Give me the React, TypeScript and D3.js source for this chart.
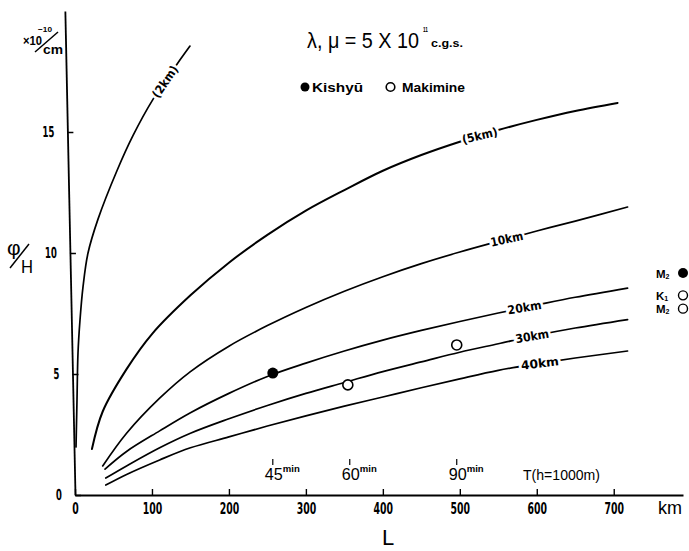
import React, { useEffect, useRef } from 'react'
import * as d3 from 'd3'

// φ/H (x10^-10 /cm) against distance L (km), one curve per depth
const curve2km: [number, number][] = [
  [1.3, 1.98], [2.6, 3.93], [3.9, 5.87], [6.5, 7.23], [10.4, 8.6], [16.9, 10.0],
  [29.9, 11.4], [54.5, 13.4], [75.3, 14.85], [101.3, 16.35], [132.5, 17.8], [149.4, 18.55]
]
const curve5km: [number, number][] = [
  [22, 1.9], [36, 3.45], [67, 5.2], [100, 6.65], [150, 8.25], [200, 9.6], [250, 10.75],
  [300, 11.75], [350, 12.6], [400, 13.4], [450, 14.05], [500, 14.6], [550, 15.08],
  [600, 15.5], [650, 15.87], [705, 16.2]
]
const curve10km: [number, number][] = [
  [36, 1.2], [67, 2.55], [110, 4.0], [150, 5.1], [200, 6.15], [250, 7.0], [300, 7.75],
  [350, 8.42], [400, 9.02], [450, 9.56], [500, 10.04], [550, 10.48], [600, 10.91], [650, 11.32], [718, 11.9]
]
const curve20km: [number, number][] = [
  [39, 1.07], [67, 1.8], [110, 2.65], [150, 3.4], [200, 4.2], [250, 4.9], [300, 5.45],
  [350, 5.95], [400, 6.4], [450, 6.8], [500, 7.17], [550, 7.52], [600, 7.85], [650, 8.17], [718, 8.55]
]
const curve30km: [number, number][] = [
  [40, 0.7], [67, 1.2], [110, 1.95], [150, 2.55], [200, 3.15], [250, 3.7], [300, 4.2],
  [350, 4.65], [400, 5.1], [450, 5.5], [500, 5.9], [550, 6.25], [600, 6.6], [650, 6.9], [718, 7.25]
]
const curve40km: [number, number][] = [
  [40, 0.41], [67, 0.85], [110, 1.45], [150, 1.95], [200, 2.4], [250, 2.85], [300, 3.27],
  [350, 3.67], [400, 4.05], [450, 4.43], [500, 4.8], [550, 5.15], [600, 5.42], [650, 5.66], [718, 5.95]
]

const curveNames = ['(2km)', '(5km)', '10km', '20km', '30km', '40km']
const curveData = [curve2km, curve5km, curve10km, curve20km, curve30km, curve40km]
const labelAtL = [117, 526, 561, 584, 594, 604]
const labelLen = [36, 36, 33, 34, 34, 38]

// observed points
const kishyu: [number, number][] = [[257, 5.04]]
const makimine: [number, number][] = [[354.5, 4.55], [496, 6.2]]

// period marks T (h = 1000 m)
const periodL = [257, 357, 496]
const periodText = ['45', '60', '90']

// side key
const sideNames = ['M', 'K', 'M']
const sideSubs = ['2', '1', '2']
const sideValues = [9.17, 8.25, 7.7]
const sideFilled = [true, false, false]

const xTicks = [0, 100, 200, 300, 400, 500, 600, 700]
const yTicks = [0, 5, 10, 15]

const W = 689
const H = 551
const x = d3.scaleLinear().domain([0, 790]).range([75, 683])
const y = d3.scaleLinear().domain([0, 20]).range([495, 11])

const condensed = '"DejaVu Sans Condensed", "Liberation Sans Narrow", "DejaVu Sans", sans-serif'
const sans = '"Liberation Sans", Arial, "DejaVu Sans", sans-serif'

const line = d3.line<[number, number]>()
  .x(d => x(d[0]))
  .y(d => y(d[1]))
  .curve(d3.curveCatmullRom.alpha(0.5))

function placeOn(pts: [number, number][], L: number) {
  let i = pts.findIndex(p => p[0] >= L)
  if (i < 1) i = 1
  const a = pts[i - 1], b = pts[i]
  const t = (L - a[0]) / (b[0] - a[0])
  const phi = a[1] + (b[1] - a[1]) * t
  const ang = Math.atan2(y(b[1]) - y(a[1]), x(b[0]) - x(a[0])) * 180 / Math.PI
  return { px: x(L), py: y(phi), ang }
}

export default function App() {
  const xAxisRef = useRef<SVGGElement>(null)
  const yAxisRef = useRef<SVGGElement>(null)

  useEffect(() => {
    if (xAxisRef.current) {
      const g = d3.select(xAxisRef.current)
      g.call(d3.axisBottom(x).tickValues(xTicks).tickSizeInner(-6).tickSizeOuter(0).tickPadding(8))
      g.attr('font-family', null).attr('font-size', null)
      g.select('.domain').attr('stroke-width', 1.8)
      g.selectAll('.tick line').attr('stroke-width', 1.4)
      g.selectAll<SVGTextElement, number>('.tick text')
        .attr('font-family', condensed).attr('font-weight', 'bold').attr('font-size', 16)
        .attr('textLength', d => String(d).length * 6.5).attr('lengthAdjust', 'spacingAndGlyphs')
    }
    if (yAxisRef.current) {
      const g = d3.select(yAxisRef.current)
      g.call(d3.axisLeft(y).tickValues(yTicks).tickSizeInner(-6).tickSizeOuter(0).tickPadding(13))
      g.attr('font-family', null).attr('font-size', null)
      g.select('.domain').attr('stroke-width', 1.8)
      g.selectAll('.tick line').attr('stroke-width', 1.4)
      g.selectAll<SVGTextElement, number>('.tick text')
        .attr('font-family', condensed).attr('font-weight', 'bold').attr('font-size', 15)
        .attr('textLength', d => String(d).length * 6).attr('lengthAdjust', 'spacingAndGlyphs')
    }
  }, [])

  return (
    <svg width={W} height={H} viewBox={`0 0 ${W} ${H}`}
      style={{ position: 'absolute', left: 0, top: 0, background: '#fff' }}>

      {/* axes (the scanned y axis leans a little) */}
      <g ref={xAxisRef} transform={`translate(0,${y(0)})`} />
      <g ref={yAxisRef} transform={`translate(${x(0)},${y(0)}) skewX(1.2) translate(0,${-y(0)})`} />

      {/* depth curves */}
      {curveData.map((pts, i) => (
        <path key={i} d={line(pts) || ''} fill="none" stroke="#000"
          strokeWidth={i === 1 ? 2 : 1.7} strokeLinecap="round" />
      ))}

      {curveData.map((pts, i) => {
        const p = placeOn(pts, labelAtL[i])
        return (
          <text key={i} transform={`translate(${p.px},${p.py}) rotate(${i === 0 ? p.ang : p.ang * 0.8})`}
            dy="0.35em" textAnchor="middle" fontFamily={condensed} fontWeight="bold" fontSize={12}
            textLength={labelLen[i]} lengthAdjust="spacingAndGlyphs"
            stroke="#fff" strokeWidth={5} paintOrder="stroke" fill="#000">
            {curveNames[i]}
          </text>
        )
      })}

      {/* observations */}
      {kishyu.map((d, i) => (
        <circle key={'k' + i} cx={x(d[0])} cy={y(d[1])} r={5.5} fill="#000" />
      ))}
      {makimine.map((d, i) => (
        <circle key={'m' + i} cx={x(d[0])} cy={y(d[1])} r={5} fill="#fff" stroke="#000" strokeWidth={1.6} />
      ))}

      {/* period marks */}
      {periodL.map((L, i) => (
        <g key={i}>
          <line x1={x(L)} x2={x(L)} y1={459} y2={465} stroke="#000" strokeWidth={1.2} />
          <text fontFamily={sans}>
            <tspan x={x(L) - 8} y={480} fontSize={17} textLength={18} lengthAdjust="spacingAndGlyphs">{periodText[i]}</tspan>
            <tspan x={x(L) + 10} y={472} fontWeight="bold" fontSize={9} textLength={17} lengthAdjust="spacingAndGlyphs">min</tspan>
          </text>
        </g>
      ))}
      <text x={523} y={480} fontFamily={sans} fontSize={15} textLength={77} lengthAdjust="spacingAndGlyphs">T(h=1000m)</text>

      {/* side key */}
      <text fontFamily={sans} fontWeight="bold" fontSize={11.5}>
        {sideValues.map((v, i) => (
          <tspan key={i} x={656} y={y(v) + 4.5}>
            {sideNames[i]}<tspan fontSize={7} dy={1}>{sideSubs[i]}</tspan>
          </tspan>
        ))}
      </text>
      {sideValues.map((v, i) => sideFilled[i]
        ? <circle key={i} cx={683} cy={y(v)} r={5} fill="#000" />
        : <circle key={i} cx={683} cy={y(v)} r={4.5} fill="#fff" stroke="#000" strokeWidth={1.4} />)}

      {/* title and legend */}
      <text fontFamily={sans} fontSize={22}>
        <tspan x={307} y={48} textLength={112} lengthAdjust="spacingAndGlyphs">λ, μ = 5 X 10</tspan>
        <tspan x={423} y={32} fontSize={7} fontWeight="bold" textLength={5} lengthAdjust="spacingAndGlyphs">11</tspan>
        <tspan x={431} y={47} fontSize={10} fontWeight="bold" textLength={32} lengthAdjust="spacingAndGlyphs">c.g.s.</tspan>
      </text>

      <circle cx={305} cy={87} r={4.5} fill="#000" />
      <text x={312} y={92} fontFamily={sans} fontWeight="bold" fontSize={13} textLength={51} lengthAdjust="spacingAndGlyphs">Kishyū</text>
      <circle cx={390.5} cy={87} r={4.3} fill="#fff" stroke="#000" strokeWidth={1.6} />
      <text x={402} y={92} fontFamily={sans} fontWeight="bold" fontSize={13} textLength={63} lengthAdjust="spacingAndGlyphs">Makimine</text>

      {/* axis titles */}
      <text fontFamily={sans} fontWeight="bold">
        <tspan x={23} y={45} fontSize={12} textLength={19} lengthAdjust="spacingAndGlyphs">×10</tspan>
        <tspan x={38} y={32} fontSize={8} textLength={14} lengthAdjust="spacingAndGlyphs">−10</tspan>
        <tspan x={43} y={54} fontSize={13} textLength={20} lengthAdjust="spacingAndGlyphs">cm</tspan>
      </text>
      <line x1={35} y1={52} x2={58} y2={32} stroke="#000" strokeWidth={1.5} />

      <text fontFamily={sans}>
        <tspan x={7} y={255} fontSize={21}>φ</tspan>
        <tspan x={21} y={273} fontSize={19} textLength={12} lengthAdjust="spacingAndGlyphs">H</tspan>
      </text>
      <line x1={10} y1={268} x2={29} y2={244} stroke="#000" strokeWidth={1.5} />

      <text x={382} y={545} fontFamily={sans} fontSize={22}>L</text>
      <text x={658} y={514} fontFamily={sans} fontSize={18}>km</text>
    </svg>
  )
}
